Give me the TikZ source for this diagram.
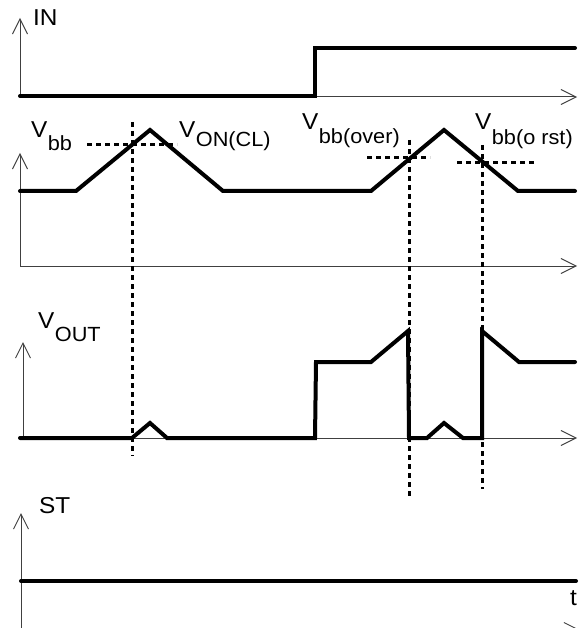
\documentclass[tikz,border=0pt]{standalone}
\usepackage{fontspec}
\setmainfont{Liberation Sans}
\newfontfamily\widesans[FakeStretch=1.06]{Liberation Sans}
\usetikzlibrary{arrows.meta}
\tikzset{
  axis/.style={line width=1pt, draw=black!75, -{Straight Barb[length=15pt,width=15pt,line width=1pt]}},
  sig/.style={line width=4pt, line cap=round, line join=miter},
  dotline/.style={line width=3pt, dash pattern=on 5pt off 4pt},
  lab/.style={inner sep=0pt, anchor=base west, font=\widesans\fontsize{23}{23}\selectfont},
  sub/.style={inner sep=0pt, anchor=base west, font=\widesans\fontsize{20.5}{20.5}\selectfont},
}
\begin{document}
\begin{tikzpicture}[x=1pt,y=-1pt]
\useasboundingbox (0,0) rectangle (584,628);
\begin{scope}
\clip (0,0) rectangle (584,628);
% axes
\coordinate (o1) at (20,97);  \coordinate (y1) at (20,18);  \coordinate (x1) at (577,97);
\coordinate (o2) at (20,266); \coordinate (y2) at (20,153); \coordinate (x2) at (577,266);
\coordinate (o3) at (23,438); \coordinate (y3) at (23,342); \coordinate (x3) at (577,438);
\coordinate (o4) at (21,640); \coordinate (y4) at (21,513);
\coordinate (o4h) at (21,630); \coordinate (x4) at (580,630);
\draw[axis] (o1) -- (y1);
\draw[axis] (o1) -- (x1);
\draw[axis] (o2) -- (y2);
\draw[axis] (o2) -- (x2);
\draw[axis] (o3) -- (y3);
\draw[axis] (o3) -- (x3);
\draw[axis] (o4) -- (y4);
\draw[axis] (o4h) -- (x4);
% dotted verticals
\coordinate (d1a) at (132,122); \coordinate (d1b) at (132,456);
\coordinate (d2a) at (409,140); \coordinate (d2b) at (409,499);
\coordinate (d3a) at (482,145); \coordinate (d3b) at (482,489);
\draw[dotline] (d1a) -- (d1b);
\draw[dotline] (d2a) -- (d2b);
\draw[dotline] (d3a) -- (d3b);
% dashed horizontals
\coordinate (h1a) at (87,145);  \coordinate (h1b) at (177,145);
\coordinate (h2a) at (367,158); \coordinate (h2b) at (430,158);
\coordinate (h3a) at (457,163); \coordinate (h3b) at (536,163);
\draw[dotline] (h1a) -- (h1b);
\draw[dotline] (h2a) -- (h2b);
\draw[dotline] (h3a) -- (h3b);
% signals
\draw[sig] (20,96) -- (315,96) -- (315,48) -- (575,48);
\draw[sig] (20,191) -- (76,191) -- (150,130) -- (223,191) -- (371,191) -- (444,130) -- (518,191) -- (575,191);
\draw[sig] (20,438) -- (132,438) -- (150,423) -- (167,438) -- (315,438) -- (316,362) -- (371,362) -- (408,331) -- (409,438) -- (427,438) -- (444,423) -- (463,438) -- (482,438) -- (482,331) -- (519,362) -- (575,362);
\draw[sig] (21,581) -- (576,581);
\end{scope}
% labels
\node[lab] (lin) at (33,26) {IN};
\node[lab] (lv1) at (31,138) {V};
\node[sub] (lv1s) at (lv1.base east) [yshift=-13pt] {bb};
\node[lab] (lv2) at (179,138) {V};
\node[sub] (lv2s) at (lv2.base east) [yshift=-9pt] {ON(CL)};
\node[lab] (lv3) at (302,130) {V};
\node[sub] (lv3s) at (lv3.base east) [yshift=-14pt] {bb(over)};
\node[lab] (lv4) at (475,130) {V};
\node[sub] (lv4s) at (lv4.base east) [yshift=-15pt] {bb(o rst)};
\node[lab] (lv5) at (38,328) {V};
\node[sub] (lv5s) at (lv5.base east) [yshift=-13pt] {OUT};
\node[lab] (lst) at (39,513) {ST};
\node[lab] (lt) at (570,605) {t};
\end{tikzpicture}
\end{document}
